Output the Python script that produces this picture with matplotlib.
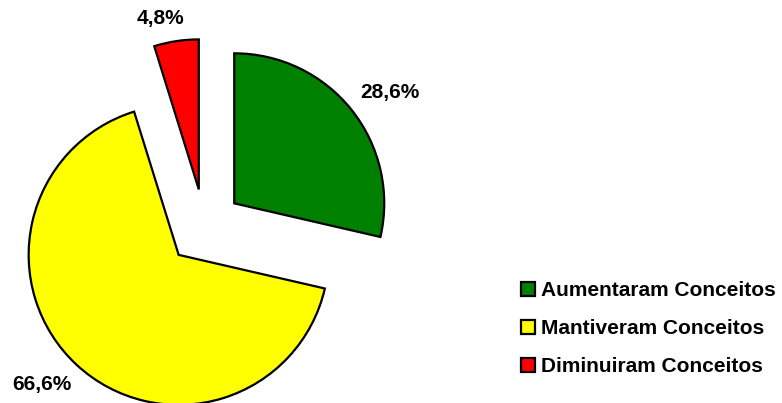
import numpy as np
import matplotlib
matplotlib.use('Agg')
import matplotlib.pyplot as plt

plt.rcParams['font.family'] = ['Liberation Sans', 'DejaVu Sans']
plt.rcParams['font.weight'] = 'bold'

categorias = ['Aumentaram Conceitos', 'Mantiveram Conceitos', 'Diminuiram Conceitos']
valores = [28.6, 66.6, 4.8]
cores = ['#008000', '#FFFF00', '#FF0000']

fig = plt.figure(figsize=(7.82, 4.03), dpi=100)
ax = fig.add_axes([0, 0, 1, 1])

raio = 150
centro = (204.5, 176)
afast = 38  # explode, em unidades de dados
explode = [afast] * 3

wedges, _ = ax.pie(valores, colors=cores, explode=explode, startangle=90,
                   counterclock=False, radius=raio, center=centro,
                   wedgeprops=dict(edgecolor='black', linewidth=1.6),
                   frame=True)
ax.set_xlim(0, 782)
ax.set_ylim(0, 403)
ax.set_aspect('equal')
ax.axis('off')

# rotulos de porcentagem (distancia relativa ao raio, ajuste de angulo)
dist = [1.273, 1.257, 1.17]
ajuste = [-2.5, -3.0, 3.4]
for w, v, d, a in zip(wedges, valores, dist, ajuste):
    th = np.deg2rad((w.theta1 + w.theta2) / 2 + a)
    x = centro[0] + (afast + d * raio) * np.cos(th)
    y = centro[1] + (afast + d * raio) * np.sin(th)
    ax.text(x, y, f'{v:.1f}%'.replace('.', ','), ha='center', va='center',
            fontsize=15, fontweight='bold')

fig.legend(wedges, categorias, loc='upper left',
           bbox_to_anchor=(521 / 782, 1 - 281 / 403), frameon=False,
           fontsize=15, handlelength=0.65, handleheight=0.65,
           handletextpad=0.3, labelspacing=0.92, borderpad=0, borderaxespad=0)

fig.savefig('out.png', dpi=100)
